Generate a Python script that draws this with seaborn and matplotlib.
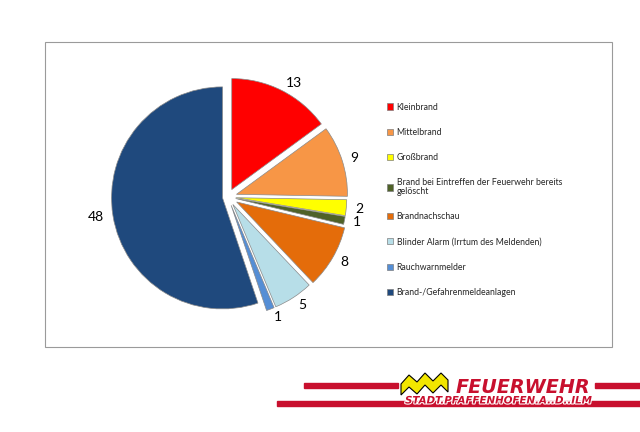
import numpy as np
import seaborn as sns
import matplotlib.pyplot as plt
from matplotlib.patches import Rectangle, Polygon, Patch
import matplotlib.patheffects as pe

# Einsatzarten and counts, clockwise from 12 o'clock
categories = [
    "Kleinbrand",
    "Mittelbrand",
    "Großbrand",
    "Brand bei Eintreffen der Feuerwehr bereits\ngelöscht",
    "Brandnachschau",
    "Blinder Alarm (Irrtum des Meldenden)",
    "Rauchwarnmelder",
    "Brand-/Gefahrenmeldeanlagen",
]
counts = [13, 9, 2, 1, 8, 5, 1, 48]
slice_colors = ["#FF0000", "#F79646", "#FFFF00", "#4F6228",
                "#E46C0A", "#B7DEE8", "#558ED5", "#1F497D"]
explode = [0.075, 0.08, 0.07, 0.07, 0.09, 0.08, 0.08, 0.05]

sns.set_theme(style="white")
plt.rcParams["font.family"] = ["Lato", "DejaVu Sans"]

fig = plt.figure(figsize=(6.4, 4.32), dpi=100)
fig.patch.set_facecolor("white")

# pixel overlay for frame and logo
bg = fig.add_axes([0, 0, 1, 1], zorder=0)
bg.set_xlim(0, 640)
bg.set_ylim(432, 0)
bg.axis("off")
bg.add_patch(Rectangle((45, 42), 567, 305, facecolor="white",
                       edgecolor="#9a9a9a", linewidth=0.8))

# pie: centre ~(228, 197) px, radius ~111 px
cx, cy, half = 228, 197, 160
ax = fig.add_axes([(cx - half) / 640, (432 - cy - half) / 432,
                   2 * half / 640, 2 * half / 432], zorder=1)
lim = half / 111
palette = sns.color_palette(slice_colors)
wedges, texts = ax.pie(
    counts,
    labels=[str(c) for c in counts],
    colors=palette,
    explode=explode,
    startangle=90,
    counterclock=False,
    labeldistance=1.08,
    wedgeprops=dict(edgecolor="#8a8a8a", linewidth=0.5),
    textprops=dict(fontsize=10, color="black"),
)
ax.set_xlim(-lim, lim)
ax.set_ylim(-lim, lim)
ax.set_aspect("equal")
ax.axis("off")

handles = [Patch(facecolor=c, edgecolor="#7f7f7f", linewidth=0.5) for c in palette]
leg = fig.legend(handles, categories, loc="upper left",
                 bbox_to_anchor=(387 / 640, 1 - 102.5 / 432),
                 frameon=False, labelspacing=1.85,
                 prop=dict(family="Lato", size=6.3),
                 handlelength=0.7, handleheight=0.7, handletextpad=0.4,
                 borderpad=0, borderaxespad=0)
for t in leg.get_texts():
    t.set_linespacing(1.0)

# Feuerwehr logo
red = "#C8102E"
bg.add_patch(Rectangle((304, 383), 94, 4.5, color=red, zorder=2))
bg.add_patch(Rectangle((595, 383), 45, 4.5, color=red, zorder=2))
bg.add_patch(Rectangle((277, 401), 363, 5, color=red, zorder=2))
wave = Polygon([(401, 384), (409, 375), (417, 382), (425, 373), (433, 381),
                (441, 373), (448, 380), (448, 392), (441, 385), (433, 393),
                (425, 385), (417, 394), (409, 387), (401, 395)],
               closed=True, facecolor="#F2E600", edgecolor="black",
               linewidth=0.8, zorder=3)
bg.add_patch(wave)
bg.text(456, 393, "FEUERWEHR", color=red, fontsize=13.8, fontweight="bold",
        fontstyle="italic", family="DejaVu Sans", ha="left", va="baseline",
        zorder=3)
bg.text(405, 403.5, "STADT.PFAFFENHOFEN.A..D..ILM", color=red, fontsize=7.4,
        fontweight="bold", fontstyle="italic", family="DejaVu Sans",
        ha="left", va="baseline", zorder=3,
        path_effects=[pe.withStroke(linewidth=1.5, foreground="white")])

fig.savefig("out.png", dpi=100)
